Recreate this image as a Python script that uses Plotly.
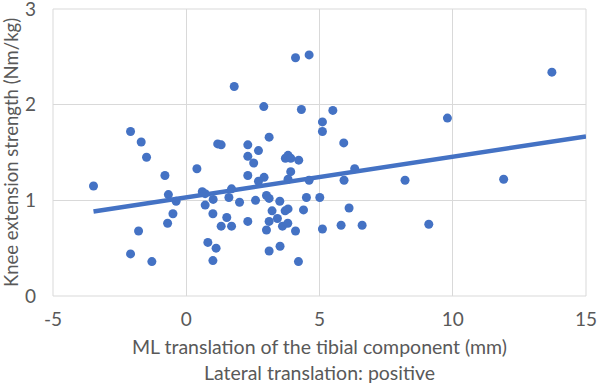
import plotly.graph_objects as go

ml_translation = [
    -3.48, -2.09, -1.69, -1.49, -0.80, -0.67, -0.38, -0.50, -0.70, -1.79, -2.09, -1.29,
    0.40, 0.60, 0.71, 1.01, 0.71, 1.00, 0.81, 1.12, 1.00, 1.18, 1.31, 1.80, 1.70, 1.60,
    1.52, 1.31, 1.70, 2.00, 2.31, 2.31, 2.53, 2.71, 2.31, 2.71, 2.92, 2.91, 3.11, 2.60,
    2.31, 3.01, 3.11, 3.51, 3.22, 3.42, 3.11, 3.01, 3.11, 3.52, 3.61, 3.81, 3.71, 3.82,
    4.10, 4.21, 4.40, 4.51, 5.01, 5.11, 5.81, 6.11, 6.60, 5.92, 6.32, 4.61, 3.92, 3.82,
    3.72, 3.82, 3.92, 4.22, 4.10, 4.61, 4.32, 5.50, 5.11, 5.11, 5.91, 13.72, 9.80, 8.21,
    11.91, 9.10,
]
knee_strength = [
    1.15, 1.72, 1.61, 1.45, 1.26, 1.06, 0.99, 0.86, 0.76, 0.68, 0.44, 0.36,
    1.33, 1.09, 1.07, 1.01, 0.95, 0.86, 0.56, 0.50, 0.37, 1.59, 1.58, 2.19, 1.12, 1.03,
    0.82, 0.73, 0.73, 0.98, 1.58, 1.46, 1.39, 1.52, 1.26, 1.20, 1.24, 1.98, 1.66, 1.00,
    0.78, 1.05, 1.02, 0.99, 0.89, 0.81, 0.78, 0.69, 0.47, 0.52, 0.73, 0.76, 0.89, 0.91,
    0.68, 0.36, 0.90, 1.03, 1.03, 0.70, 0.74, 0.92, 0.74, 1.21, 1.33, 1.21, 1.30, 1.22,
    1.44, 1.47, 1.44, 1.42, 2.49, 2.52, 1.95, 1.94, 1.82, 1.72, 1.60, 2.34, 1.86, 1.21,
    1.22, 0.75,
]
trend_x = [-3.48, 15.0]
trend_y = [0.883, 1.668]

x_ticks = [-5, 0, 5, 10, 15]
y_ticks = [0, 1, 2, 3]

blue = "#4472C4"
grid = "#D9D9D9"
txt = "#595959"
font_family = "Lato, Open Sans, sans-serif"

fig = go.Figure()
fig.add_trace(go.Scatter(
    x=ml_translation, y=knee_strength, mode="markers",
    marker=dict(color=blue, size=9, line=dict(width=0)),
    showlegend=False, hoverinfo="skip",
))
fig.add_trace(go.Scatter(
    x=trend_x, y=trend_y, mode="lines",
    line=dict(color=blue, width=4.5),
    showlegend=False, hoverinfo="skip",
))

fig.update_layout(
    width=597, height=388,
    margin=dict(l=53, r=11, t=9, b=92),
    paper_bgcolor="white", plot_bgcolor="white",
    font=dict(family=font_family, color=txt),
)
fig.update_xaxes(
    range=[-5, 15], tickmode="array", tickvals=x_ticks, ticktext=[str(v) for v in x_ticks],
    showgrid=True, gridcolor=grid, gridwidth=1, zeroline=False,
    showline=False, ticks="", ticklabeloverflow="allow", automargin=False,
    ticklabelstandoff=10,
    tickfont=dict(size=19, color=txt),
    title=dict(text="ML translation of the tibial component (mm)<br>Lateral translation: positive",
               font=dict(size=19.5, color=txt), standoff=11),
)
fig.update_yaxes(
    range=[0, 3], tickmode="array", tickvals=y_ticks, ticktext=[str(v) for v in y_ticks],
    showgrid=True, gridcolor=grid, gridwidth=1, zeroline=False,
    showline=False, ticks="", ticklabeloverflow="allow", automargin=False,
    ticklabelstandoff=16,
    tickfont=dict(size=19, color=txt),
    title=dict(text="Knee extension strength (Nm/kg)", font=dict(size=18.5, color=txt), standoff=8),
)
fig.update_layout(shapes=[
    dict(type="rect", xref="paper", yref="paper", x0=0, y0=0, x1=1, y1=1,
         line=dict(color=grid, width=1), layer="below"),
])

fig.write_html("out.html", config={"displayModeBar": False},
               post_script="document.body.style.margin='0';")
